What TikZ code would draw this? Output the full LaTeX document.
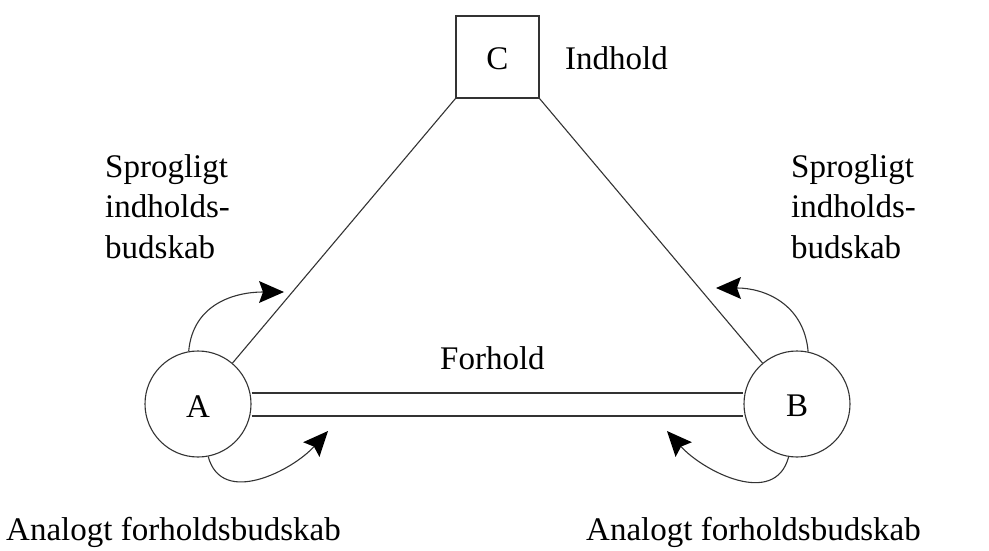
\documentclass[tikz,border=0pt]{standalone}
\usepackage{fontspec}
\setmainfont{Liberation Serif}
\usetikzlibrary{arrows.meta}
\begin{document}
\begin{tikzpicture}[x=1pt,y=-1pt,
  every node/.style={font=\fontsize{33}{40.5}\selectfont, inner sep=0pt},
  ln/.style={line width=1.1pt, draw=black!80},
  arc/.style={line width=1.1pt, draw=black!80, -{Stealth[length=25pt,width=22pt,inset=4pt,fill=black,line width=0pt]}},
  lbl/.style={anchor=base west, align=left},
  circ/.style={circle, draw=black!80, line width=1.1pt, minimum size=106pt}]
\useasboundingbox (0,0) rectangle (989,551);
\node[draw=black!80, line width=1.1pt, minimum width=83pt, minimum height=82pt] (C) at (497.5,57) {};
\node[anchor=base] (Ct) at (497.5,70) {C};
\node[circ] (A) at (198,404) {};
\node[anchor=base] (At) at (198,417) {A};
\node[circ] (B) at (797,404) {};
\node[anchor=base] (Bt) at (797,416) {B};
\draw[ln] (C.south west) -- (A);
\draw[ln] (C.south east) -- (B);
\draw[ln] (A.east |- 0,393) coordinate (a1) -- (B.west |- 0,393);
\draw[ln] (A.east |- 0,416) coordinate (a2) -- (B.west |- 0,416);
\coordinate (t1) at (284,292);
\coordinate (t2) at (328,431);
\coordinate (t3) at (716,288);
\coordinate (t4) at (667,431);
\draw[arc] (A.100) to[out=85, in=180, looseness=1.1] (t1);
\draw[arc] (A.-79) to[out=-75, in=228, looseness=1.1] (t2);
\draw[arc] (B.78) to[out=95, in=0, looseness=1.1] (t3);
\draw[arc] (B.-99) to[out=-105, in=-48, looseness=1.1] (t4);
\node[lbl] (ind) at (565,70) {Indhold};
\node[lbl] (forh) at (440,369) {Forhold};
\node[lbl] (sl) at (105,258) {Sprogligt\\indholds-\\budskab};
\node[lbl] (sr) at (791,258) {Sprogligt\\indholds-\\budskab};
\node[lbl] (al) at (6,540) {Analogt forholdsbudskab};
\node[lbl] (ar) at (586,540) {Analogt forholdsbudskab};
\end{tikzpicture}
\end{document}
